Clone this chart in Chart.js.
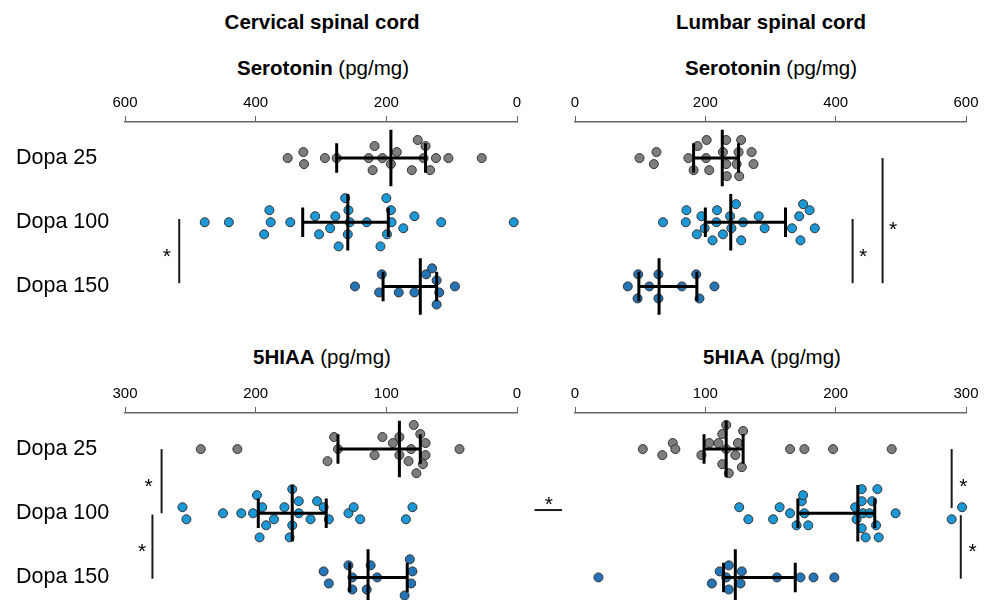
<!DOCTYPE html>
<html>
<head>
<meta charset="utf-8">
<script src="https://cdn.jsdelivr.net/npm/chart.js@4.4.1/dist/chart.umd.min.js"></script>
<style>
  body { margin: 0; width: 986px; height: 600px; overflow: hidden; background: #fff; position: relative;
         font-family: "Liberation Sans", Arial, sans-serif; }
  .t { position: absolute; transform: translate(-50%, -50%); white-space: nowrap; font-size: 20.5px; color: #000; }
  canvas { position: absolute; }
</style>
</head>
<body>
<div class="t" style="left:322px;top:22px"><b>Cervical spinal cord</b></div>
<div class="t" style="left:771px;top:22px"><b>Lumbar spinal cord</b></div>
<div class="t" style="left:323px;top:68px"><b>Serotonin</b> (pg/mg)</div>
<div class="t" style="left:771px;top:68px"><b>Serotonin</b> (pg/mg)</div>
<div class="t" style="left:322px;top:357px"><b>5HIAA</b> (pg/mg)</div>
<div class="t" style="left:772px;top:357px"><b>5HIAA</b> (pg/mg)</div>

<canvas id="cervSer" width="525" height="244" style="left:0;top:80px"></canvas>
<canvas id="lumbSer" width="461" height="244" style="left:525px;top:80px"></canvas>
<canvas id="cervHiaa" width="525" height="244" style="left:0;top:371px"></canvas>
<canvas id="lumbHiaa" width="461" height="244" style="left:525px;top:371px"></canvas>

<script>
const groups = ['Dopa 25', 'Dopa 100', 'Dopa 150'];
const dotColors = ['#7d7d7d', '#1b98d5', '#2574b6'];
const jitterStep = 0.094; // one swarm step, in row units
const serTicks = [0, 200, 400, 600];
const hiaaTicks = [0, 100, 200, 300];

// Cervical serotonin
const cSer25 = [351, 327, 326, 294, 276, 227, 218, 221, 206, 193, 184, 161, 152, 143, 140, 133, 124, 105, 54];
const cSer25Jit = [0, -1, 1, 0, 0, 0, -2, 2, 0, 1, -1, 2, -3, 0, -2, 2, 0, 0, 0];
const cSer100 = [478, 441, 379, 377, 387, 347, 309, 303, 286, 278, 273, 263, 258, 256, 259, 230, 209, 200, 193, 192, 199, 174, 157, 116, 5];
const cSer100Jit = [0, 0, -2, 0, 2, 0, -1, 2, 1, -1, 4, -4, -2, 0, 2, 0, 4, -4, -2, 0, 2, 1, -1, 0, 0];
const cSer150 = [248, 207, 211, 181, 157, 139, 130, 123, 119, 123, 95];
const cSer150Jit = [0, -2, 1, 1, 1, -2, -3, -1, 1, 3, 0];
const cSerMean = [193, 259, 148];
const cSerLow = [276, 328, 205];
const cSerHigh = [140, 197, 123];
const cSerSig = [[517, 0.95, 1.95]];
const cSerStars = [[536, 1.47]];

// Lumbar serotonin
const lSer25 = [99, 121, 125, 174, 182, 188, 202, 201, 206, 227, 232, 232, 233, 251, 248, 255, 252, 271, 274];
const lSer25Jit = [0, 1, -1, 0, 2, -2, -3, 0, 2, -1, -3, 1, 3, -1, 1, -3, 3, -1, 1];
const lSer100 = [135, 170, 171, 187, 194, 199, 218, 217, 211, 227, 238, 240, 247, 258, 255, 282, 291, 333, 344, 350, 360, 346, 368];
const lSer100Jit = [0, 0, -2, 2, -1, 1, -2, 0, 3, 2, -1, 1, -3, 0, 3, -1, 1, 1, -1, -3, -2, 3, 1];
const lSer150 = [81, 97, 96, 114, 128, 128, 164, 186, 191, 214];
const lSer150Jit = [0, -2, 2, 0, -2, 2, 0, -2, 2, 0];
const lSerMean = [226, 239, 129];
const lSerLow = [182, 200, 98];
const lSerHigh = [251, 323, 187];
const lSerSig = [[426, 0.95, 1.95], [472, 0, 1.95]];
const lSerStars = [[442, 1.47], [488, 1.05]];

// Cervical 5HIAA
const cHiaa25 = [242, 214, 145, 140, 137, 109, 103, 95, 90, 90, 83, 81, 79, 74, 72, 70, 70, 77, 44];
const cHiaa25Jit = [0, 0, 2, -2, 0, 1, -2, -1, -2, 1, 2, 0, -4, -2.5, 2.5, -1, 1, 4, 0];
const cHiaa100 = [256, 253, 225, 211, 202, 199, 195, 192, 197, 186, 178, 172, 172, 174, 167, 167, 158, 153, 148, 144, 129, 125, 120, 85, 80];
const cHiaa100Jit = [-1, 1, 0, 0, 0, -3, -1, 2, 4, 1, -1, -4, 2, 4, -2, 0, 1, -2, -1, 1, 0, -1, 1, 1, -1];
const cHiaa150 = [148, 144, 129, 126, 126, 115, 112, 107, 86, 82, 81, 80];
const cHiaa150Jit = [-1, 1, -2, 0, 2, 2, -2, 0, 3, -3, 1, -1];
const cHiaaMean = [90, 172, 114];
const cHiaaLow = [137, 198, 128];
const cHiaaHigh = [74, 146, 84];
const cHiaaSig = [[272, 0, 1], [279, 1.02, 2.02]];
const cHiaaStars = [[282, 0.52], [287, 1.53]];

// Lumbar 5HIAA
const lHiaa25 = [52, 67, 75, 77, 97, 103, 110, 116, 113, 116, 113, 118, 123, 125, 129, 128, 165, 176, 198, 243];
const lHiaa25Jit = [0, 1, -1, 0, 1, -1, -1, -4, -2.5, 0, 2.5, 4, 1, -1, -3, 3, 0, 0, 0, 0];
const lHiaa100 = [126, 133, 152, 157, 165, 174, 175, 170, 179, 176, 215, 216, 220, 220, 221, 220, 223, 226, 228, 231, 232, 233, 246, 289, 297];
const lHiaa100Jit = [-1, 1, 1, -1, 0, -2, -3, 2, 2, 0, -1, 1, -4, -2, 0, 2.5, 4, 0, -2, 2, -4, 4, 0, 1, -1];
const lHiaa150 = [18, 105, 111, 118, 118, 116, 128, 127, 155, 173, 183, 199];
const lHiaa150Jit = [0, 1, -1, -2, 2, 0, -1, 1, 0, 0, 0, 0];
const lHiaaMean = [116, 217, 123];
const lHiaaLow = [99, 171, 114];
const lHiaaHigh = [129, 230, 169];
const lHiaaSig = [[289, 0, 0.92], [296, 1.03, 2.02]];
const lHiaaStars = [[298, 0.52], [305, 1.53], [-20, 0.8]];
const lHiaaDash = [[-31, -10, 0.95]];

const sigPlugin = {
  id: 'sig',
  afterDatasetsDraw(chart, args, opts) {
    const ctx = chart.ctx;
    const x = chart.scales.x;
    const y = chart.scales.y;
    ctx.save();
    ctx.strokeStyle = '#1a1a1a';
    ctx.lineWidth = 2;
    (opts.lines || []).forEach(([v, r0, r1]) => {
      ctx.beginPath();
      ctx.moveTo(x.getPixelForValue(v), y.getPixelForValue(r0));
      ctx.lineTo(x.getPixelForValue(v), y.getPixelForValue(r1));
      ctx.stroke();
    });
    (opts.dashes || []).forEach(([v0, v1, r]) => {
      ctx.beginPath();
      ctx.moveTo(x.getPixelForValue(v0), y.getPixelForValue(r));
      ctx.lineTo(x.getPixelForValue(v1), y.getPixelForValue(r));
      ctx.stroke();
    });
    ctx.fillStyle = '#000';
    ctx.font = '21px "Liberation Sans", Arial, sans-serif';
    ctx.textAlign = 'center';
    ctx.textBaseline = 'middle';
    (opts.stars || []).forEach(([v, r]) => {
      ctx.fillText('*', x.getPixelForValue(v), y.getPixelForValue(r) + 5);
    });
    ctx.restore();
  }
};

function segment(points) {
  return {
    data: points,
    showLine: true,
    borderColor: '#000',
    borderWidth: 3,
    pointRadius: 0,
    order: 1,
    clip: false
  };
}

// keep the chart area exactly where the layout padding puts it
function noPad(a) {
  a.paddingTop = 0;
  a.paddingBottom = 0;
  a.paddingLeft = 0;
  a.paddingRight = 0;
}

function makePanel(id, opt) {
  const datasets = [];
  opt.values.forEach((vals, i) => {
    datasets.push({
      data: vals.map((v, k) => ({ x: v, y: i + opt.jitter[i][k] * jitterStep })),
      backgroundColor: dotColors[i],
      borderColor: '#333',
      borderWidth: 1,
      pointRadius: 4.5,
      order: 2,
      clip: false
    });
    datasets.push(segment([{ x: opt.low[i], y: i }, { x: opt.high[i], y: i }]));
    datasets.push(segment([{ x: opt.low[i], y: i - 0.23 }, { x: opt.low[i], y: i + 0.23 }]));
    datasets.push(segment([{ x: opt.high[i], y: i - 0.23 }, { x: opt.high[i], y: i + 0.23 }]));
    datasets.push(segment([{ x: opt.mean[i], y: i - 0.44 }, { x: opt.mean[i], y: i + 0.44 }]));
  });

  return new Chart(document.getElementById(id), {
    type: 'scatter',
    data: { datasets: datasets },
    plugins: [sigPlugin],
    options: {
      responsive: false,
      animation: false,
      events: [],
      layout: { padding: opt.padding },
      plugins: {
        legend: { display: false },
        tooltip: { enabled: false },
        sig: { lines: opt.sig, stars: opt.stars, dashes: opt.dashes }
      },
      scales: {
        x: {
          type: 'linear',
          position: 'top',
          min: 0,
          max: opt.ticks[opt.ticks.length - 1],
          reverse: opt.reverse,
          afterBuildTicks: (a) => { a.ticks = opt.ticks.map((v) => ({ value: v })); },
          afterFit: (a) => { a.height = 30; noPad(a); },
          grid: { display: true, drawOnChartArea: false, drawTicks: true, tickLength: 6, color: '#666' },
          border: { display: true, color: '#666', width: 1.5 },
          ticks: { color: '#000', padding: 4, maxRotation: 0,
                   font: { size: 15, family: '"Liberation Sans", Arial, sans-serif' } }
        },
        y: {
          type: 'linear',
          reverse: true,
          min: -0.5625,
          max: 2.5,
          display: opt.showGroups,
          afterBuildTicks: (a) => { a.ticks = [0, 1, 2].map((v) => ({ value: v })); },
          afterFit: (a) => { a.width = opt.showGroups ? 109 : 0; noPad(a); },
          grid: { display: false },
          border: { display: false },
          ticks: {
            crossAlign: 'far',
            color: '#000',
            font: { size: 21.5, family: '"Liberation Sans", Arial, sans-serif' },
            callback: (v) => groups[v]
          }
        }
      }
    }
  });
}

makePanel('cervSer', {
  values: [cSer25, cSer100, cSer150], jitter: [cSer25Jit, cSer100Jit, cSer150Jit],
  mean: cSerMean, low: cSerLow, high: cSerHigh, sig: cSerSig, stars: cSerStars,
  ticks: serTicks, reverse: true, showGroups: true,
  padding: { left: 16, right: 8, top: 12, bottom: 0 }
});
makePanel('lumbSer', {
  values: [lSer25, lSer100, lSer150], jitter: [lSer25Jit, lSer100Jit, lSer150Jit],
  mean: lSerMean, low: lSerLow, high: lSerHigh, sig: lSerSig, stars: lSerStars,
  ticks: serTicks, reverse: false, showGroups: false,
  padding: { left: 50, right: 20, top: 12, bottom: 0 }
});
makePanel('cervHiaa', {
  values: [cHiaa25, cHiaa100, cHiaa150], jitter: [cHiaa25Jit, cHiaa100Jit, cHiaa150Jit],
  mean: cHiaaMean, low: cHiaaLow, high: cHiaaHigh, sig: cHiaaSig, stars: cHiaaStars,
  ticks: hiaaTicks, reverse: true, showGroups: true,
  padding: { left: 16, right: 8, top: 12, bottom: 0 }
});
makePanel('lumbHiaa', {
  values: [lHiaa25, lHiaa100, lHiaa150], jitter: [lHiaa25Jit, lHiaa100Jit, lHiaa150Jit],
  mean: lHiaaMean, low: lHiaaLow, high: lHiaaHigh, sig: lHiaaSig, stars: lHiaaStars, dashes: lHiaaDash,
  ticks: hiaaTicks, reverse: false, showGroups: false,
  padding: { left: 50, right: 20, top: 12, bottom: 0 }
});
</script>
</body>
</html>
